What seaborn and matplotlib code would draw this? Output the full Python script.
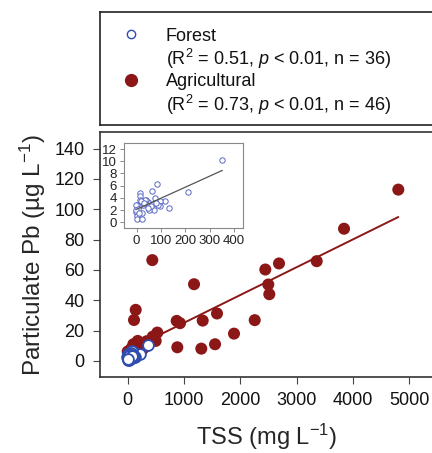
import numpy as np
import pandas as pd
import matplotlib
matplotlib.use("Agg")
import matplotlib.pyplot as plt
from matplotlib.lines import Line2D
import seaborn as sns

sns.set_style("white")
plt.rcParams["font.family"] = ["Liberation Sans", "DejaVu Sans"]
plt.rcParams["mathtext.fontset"] = "custom"
plt.rcParams["mathtext.rm"] = "Liberation Sans"
plt.rcParams["mathtext.it"] = "Liberation Sans:italic"

# forest sites (TSS mg/L, particulate Pb ug/L)
forest_tss = [352, 210, 85, 64, 132, 115, 95, 97, 77, 88, 68, 70, 52, 47, 40, 33,
              27, 12, 13, 13, 9, 1, -4, -2, 0, 0, 20, 22, 5, 60, 45, 18, -3, 30, 80, 10]
forest_pb = [10.25, 4.9, 6.35, 5.1, 2.3, 3.45, 3.5, 2.7, 3.9, 2.8, 3.0, 2.0, 2.0, 3.3, 3.7, 3.7,
             2.85, 4.75, 4.3, 3.7, 2.7, 2.9, 2.8, 1.7, 1.1, 0.55, 0.55, 1.5, 2.1, 2.6, 2.3, 3.5, 2.0, 3.2, 3.2, 1.6]

# agricultural sites
agri_tss = [4806, 3842, 3357, 2687, 2444, 2497, 2515, 2256, 1888, 1586, 1551, 1332, 1307, 1178,
            929, 870, 881, 437, 526, 497, 444, 337, 142, 112, 178, 160, 278, 0,
            30, 60, 90, 120, 150, 200, 250, 80, 40, 20, 10, 100, 180, 220, 300, 350, 50, 70]
agri_pb = [113, 87.2, 65.8, 64.3, 60.3, 50.4, 44, 26.9, 18, 31.3, 11, 26.6, 8.1, 50.6,
           24.9, 26.4, 9.0, 66.5, 18.7, 13.2, 16, 13, 33.7, 27, 13.2, 12, 8.4, 6.2,
           5, 8, 4, 6, 9, 10, 7, 3, 2, 6, 4, 11, 12, 8, 9, 10, 5, 7]

labels = ["Forest", "(R$^2$ = 0.51, $p$ < 0.01, n = 36)",
          "Agricultural", "(R$^2$ = 0.73, $p$ < 0.01, n = 46)"]

forest = pd.DataFrame({"tss": forest_tss, "pb": forest_pb})
agri = pd.DataFrame({"tss": agri_tss, "pb": agri_pb})

red = "#8c1717"
blue = "#2f4cb0"

fig = plt.figure(figsize=(4.32, 4.53), dpi=100)
ax = fig.add_axes([100 / 432, 1 - 377 / 453, 334 / 432, 245 / 453])

sns.regplot(data=agri, x="tss", y="pb", ax=ax, ci=None, truncate=True,
            scatter_kws=dict(s=75, color=red, edgecolor="none", alpha=1, zorder=3),
            line_kws=dict(color=red, lw=1.4, zorder=2))
sns.scatterplot(data=forest, x="tss", y="pb", ax=ax, s=60, color="white",
                edgecolor=blue, linewidth=1.3, zorder=4)

ax.set_xlim(-492, 5440)
ax.set_ylim(-10.6, 151)
ax.set_xticks([0, 1000, 2000, 3000, 4000, 5000])
ax.set_yticks([0, 20, 40, 60, 80, 100, 120, 140])
ax.set_xlabel("TSS (mg L$^{-1}$)", fontsize=17, labelpad=9)
ax.set_ylabel("Particulate Pb (\u00b5g L$^{-1}$)", fontsize=17.5, labelpad=5)
ax.tick_params(axis="both", labelsize=13, length=5, width=0.8, color="#444444",
               labelcolor="#111111", direction="out", bottom=True, left=True, pad=6)
for s in ax.spines.values():
    s.set_color("#333333")
    s.set_linewidth(1.2)

# inset with the forest sites only
ins = fig.add_axes([124 / 432, 1 - 228 / 453, 119 / 432, 85 / 453])
sns.regplot(data=forest, x="tss", y="pb", ax=ins, ci=None, truncate=True,
            scatter_kws=dict(s=15, facecolor="white", edgecolor="#5a68c4", linewidths=0.7, alpha=1),
            line_kws=dict(color="#555555", lw=0.9))
ins.set_xlim(-52, 437)
ins.set_ylim(-0.94, 13)
ins.set_xticks([0, 100, 200, 300, 400])
ins.set_yticks([0, 2, 4, 6, 8, 10, 12])
ins.set_xlabel("")
ins.set_ylabel("")
ins.tick_params(axis="both", labelsize=9.5, length=3, width=0.6, color="#777777",
                labelcolor="#222222", bottom=True, left=True, pad=2)
for s in ins.spines.values():
    s.set_color("#888888")
    s.set_linewidth(0.8)

# legend box
lax = fig.add_axes([100 / 432, 1 - 125 / 453, 334 / 432, 113 / 453])
lax.set_xticks([])
lax.set_yticks([])
for s in lax.spines.values():
    s.set_color("#222222")
    s.set_linewidth(1.2)
handles = [
    Line2D([], [], ls="none", marker="o", ms=6, mfc="white", mec=blue, mew=1.0),
    Line2D([], [], ls="none"),
    Line2D([], [], ls="none", marker="o", ms=8.5, mfc=red, mec=red),
    Line2D([], [], ls="none"),
]
lax.legend(handles, labels, loc="upper left", bbox_to_anchor=(0.04, 0.94), frameon=False,
           fontsize=13, labelcolor="#111111", handlelength=1.0, handletextpad=1.4,
           labelspacing=0.12, borderpad=0)

fig.savefig("out.png", dpi=100)
